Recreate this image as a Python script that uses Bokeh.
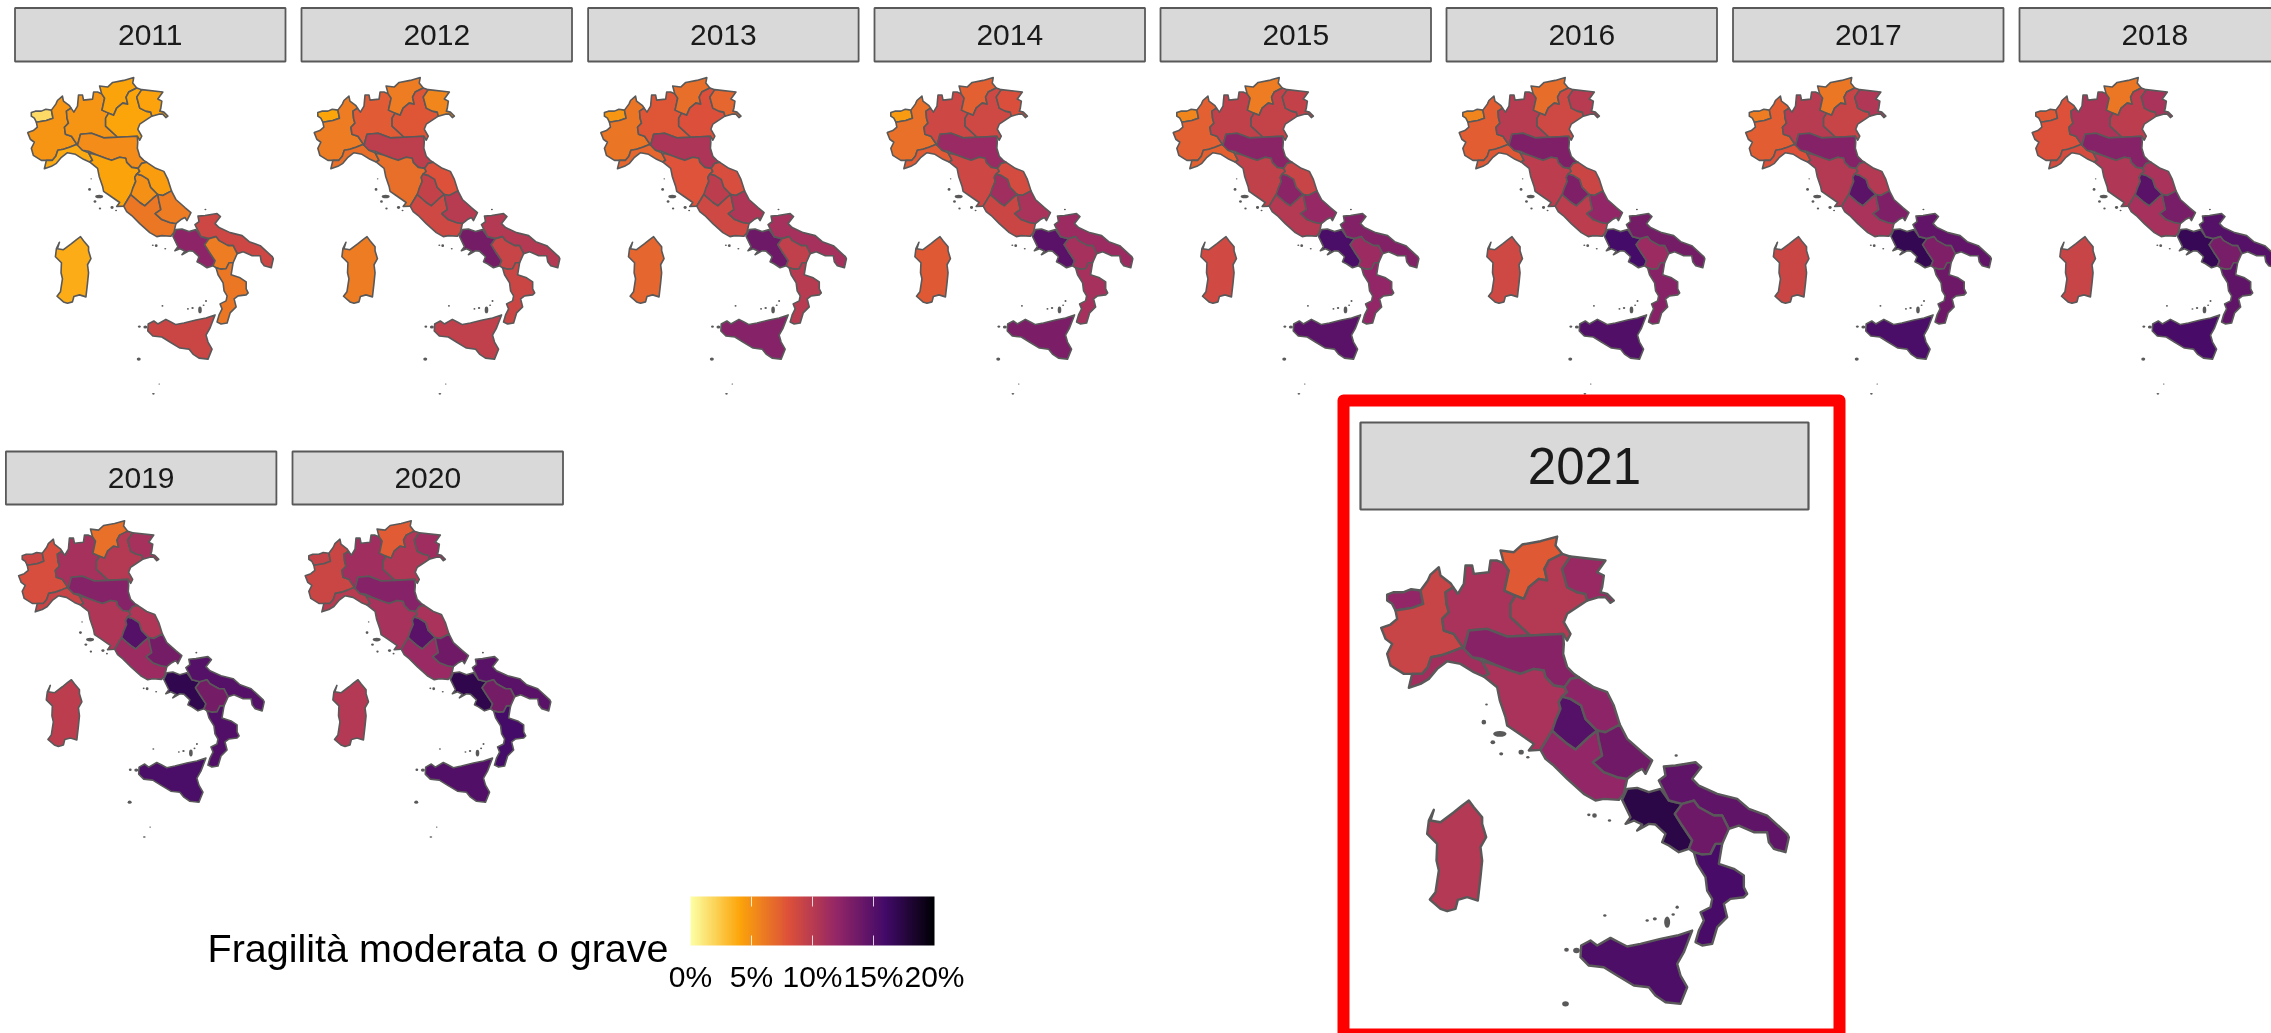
from bokeh.plotting import figure, ColumnDataSource
from bokeh.models import Range1d, LinearColorMapper
from bokeh.core.properties import value
from bokeh.embed import file_html
from bokeh.resources import INLINE
import numpy as np

# ---------- data: percentages ----------
REGIONS = ["Valle d'Aosta","Piemonte","Liguria","Lombardia","Trentino-Alto Adige","Veneto",
           "Friuli-Venezia Giulia","Emilia-Romagna","Toscana","Umbria","Marche","Lazio","Abruzzo",
           "Campania","Puglia","Basilicata","Calabria","Sicilia","Sardegna"]
YEARS = [2011,2012,2013,2014,2015,2016,2017,2018,2019,2020,2021]
v2011 = [1.7,4.8,3.8,4.8,4.1,4.0,4.2,5.2,4.1,5.0,4.4,6.2,6.0,12.3,8.9,6.0,6.2,9.0,3.7]
v2012 = [4.0,6.0,6.6,7.5,6.0,7.8,5.5,9.7,6.6,9.4,8.0,8.8,10.0,13.5,10.2,9.2,9.0,9.6,6.0]
v2013 = [4.7,6.3,7.0,7.8,6.6,8.1,7.0,10.6,7.9,9.8,8.3,8.8,10.5,13.8,11.0,9.6,10.0,12.6,7.0]
v2014 = [4.5,6.5,7.5,8.9,7.3,8.8,8.2,11.6,8.9,11.3,8.5,9.0,10.8,14.8,11.5,11.0,11.0,13.2,7.6]
v2015 = [5.5,7.3,7.2,9.5,6.0,9.3,9.4,12.4,9.5,12.4,9.2,10.2,11.8,15.6,12.8,11.5,12.0,14.8,8.7]
v2016 = [5.6,7.4,7.7,10.0,6.7,8.8,10.0,13.0,9.8,13.0,9.0,9.8,12.0,15.8,13.5,11.5,12.5,15.2,8.8]
v2017 = [6.0,7.4,8.0,10.0,6.2,9.2,10.4,12.7,10.2,14.7,10.2,10.8,13.0,16.8,14.4,13.0,13.8,15.6,9.0]
v2018 = [7.6,8.0,8.5,10.7,6.2,9.8,10.8,12.6,10.4,14.8,10.8,11.0,13.3,16.7,15.0,13.3,14.5,15.7,9.2]
v2019 = [9.0,8.3,9.2,11.0,6.5,10.2,11.0,12.6,10.5,15.0,10.5,11.5,13.5,17.0,15.0,13.5,15.2,15.6,9.8]
v2020 = [9.3,9.0,10.0,11.3,7.5,10.4,11.4,12.6,10.9,14.8,10.8,11.6,13.7,17.1,14.8,13.5,15.8,15.2,10.3]
v2021 = [12.0,9.2,11.2,10.8,7.6,10.2,11.7,12.5,10.8,15.0,12.3,12.0,13.7,17.3,14.6,13.9,15.7,15.4,10.3]
VALUES = [v2011,v2012,v2013,v2014,v2015,v2016,v2017,v2018,v2019,v2020,v2021]

LEGEND_TITLE = "Fragilità moderata o grave"
LEGEND_TICKS = [0,5,10,15,20]
LEGEND_LABELS = ["0%","5%","10%","15%","20%"]
STOPS = ["#FCFFA4","#FCA50A","#DD513A","#932667","#420A68","#000004"]   # reversed inferno(6)

# ---------- region outlines, map units ----------
VDA = [(140,612),(160,605),(190,605),(212,596),(240,600),(248,640),(215,652),(165,660),(155,640),(140,630)]
PIE = [(262,570),(270,552),(295,530),(300,555),(330,578),(338,590),(315,605),(318,640),(325,665),(305,685),(310,720),(340,730),(368,770),(330,785),(300,795),(272,800),(262,830),(245,850),(215,850),(190,850),(150,825),(140,790),(155,760),(135,745),(122,712),(150,702),(170,685),(165,660),(215,652),(248,640),(240,600)]
LIG = [(205,892),(240,880),(265,865),(290,835),(320,812),(360,820),(400,845),(430,858),(445,850),(425,812),(395,800),(368,770),(330,785),(300,795),(272,800),(262,830),(245,850),(215,850)]
LOM = [(338,590),(345,600),(352,610),(370,580),(375,525),(395,525),(400,550),(445,545),(450,510),(470,510),(490,518),(505,540),(492,600),(525,615),(510,640),(510,680),(570,735),(500,738),(440,715),(385,720),(370,775),(340,730),(310,720),(305,685),(325,665),(318,640),(315,605)]
TAA = [(480,480),(520,485),(545,462),(600,452),(650,438),(645,465),(665,490),(625,510),(612,535),(620,570),(595,565),(565,590),(550,625),(525,615),(492,600),(505,540),(490,518)]
VEN = [(665,490),(690,498),(665,535),(680,590),(710,605),(735,610),(740,630),(680,670),(670,695),(690,730),(680,750),(668,730),(570,735),(510,680),(510,640),(525,615),(550,625),(565,590),(595,565),(620,570),(612,535),(625,510)]
FVG = [(690,498),(795,510),(770,545),(790,555),(785,590),(780,605),(800,610),(820,630),(810,637),(795,620),(775,620),(740,630),(735,610),(710,605),(680,590),(665,535)]
EMR = [(370,775),(385,720),(440,715),(500,738),(570,735),(668,730),(670,760),(668,790),(680,830),(700,850),(715,860),(690,865),(672,890),(640,885),(615,860),(610,840),(580,835),(540,850),(510,840),(470,825),(425,805),(395,800)]
TOS = [(430,858),(445,850),(425,812),(470,825),(510,840),(540,850),(580,835),(610,840),(615,860),(640,885),(672,890),(680,905),(665,918),(655,935),(660,955),(645,990),(645,1020),(635,1020),(600,1078),(565,1080),(580,1060),(530,1025),(500,1005),(495,980),(478,930),(470,890)]
UMB = [(665,918),(690,925),(722,945),(735,985),(770,1020),(745,1040),(705,1077),(680,1060),(645,1030),(635,1020),(645,990),(660,955),(655,935)]
MAR = [(715,860),(760,890),(800,905),(820,945),(838,1002),(795,1025),(770,1020),(735,985),(722,945),(690,925),(665,918),(680,905),(672,890),(690,865)]
LAZ = [(600,1078),(635,1020),(645,1030),(680,1060),(705,1077),(745,1040),(770,1020),(775,1050),(785,1095),(757,1115),(790,1145),(830,1160),(860,1165),(850,1210),(835,1228),(790,1225),(765,1230),(730,1210),(680,1165),(640,1125),(615,1105)]
ABR = [(838,1002),(860,1045),(905,1085),(935,1110),(915,1150),(905,1135),(885,1145),(860,1165),(830,1160),(790,1145),(757,1115),(785,1095),(775,1050),(770,1020),(795,1025)]
CAM = [(845,1228),(860,1195),(890,1192),(925,1205),(960,1195),(985,1230),(1025,1240),(1003,1270),(1025,1305),(1055,1350),(1045,1375),(1015,1385),(985,1365),(965,1355),(975,1330),(945,1302),(925,1300),(890,1320),(905,1302),(880,1290),(855,1300),(870,1280)]
PUG = [(970,1128),(1005,1125),(1065,1115),(1082,1130),(1055,1165),(1075,1185),(1130,1210),(1190,1225),(1225,1255),(1280,1275),(1340,1330),(1345,1340),(1335,1385),(1300,1375),(1285,1355),(1280,1325),(1240,1325),(1195,1305),(1165,1315),(1145,1275),(1120,1275),(1075,1250),(1060,1230),(1025,1240),(985,1230),(955,1170),(975,1155)]
BAS = [(1025,1240),(1060,1230),(1075,1250),(1120,1275),(1145,1275),(1165,1315),(1145,1360),(1125,1360),(1110,1390),(1085,1392),(1060,1385),(1045,1375),(1055,1350),(1025,1305),(1003,1270)]
CAL = [(1060,1385),(1085,1392),(1110,1390),(1125,1360),(1145,1360),(1135,1420),(1180,1435),(1210,1455),(1210,1490),(1220,1510),(1210,1520),(1170,1525),(1150,1540),(1160,1580),(1130,1610),(1115,1660),(1085,1665),(1065,1655),(1075,1620),(1090,1590),(1080,1565),(1110,1550),(1115,1525),(1100,1500),(1095,1460),(1070,1420)]
SIC = [(1055,1620),(1030,1685),(1010,1720),(1020,1755),(1040,1790),(1020,1840),(975,1835),(945,1815),(925,1790),(880,1785),(830,1755),(790,1730),(745,1725),(720,1700),(722,1665),(750,1650),(770,1665),(810,1642),(835,1655),(860,1668),(900,1660),(960,1645),(1010,1635)]
SAR = [(385,1230),(400,1250),(425,1280),(425,1300),(437,1340),(420,1370),(425,1410),(420,1460),(412,1530),(380,1520),(352,1528),(345,1555),(320,1562),(300,1555),(268,1527),(285,1505),(295,1440),(288,1410),(290,1360),(260,1330),(265,1290),(280,1258),(270,1290),(300,1295),(340,1265),(365,1245)]
OUTLINES = [VDA,PIE,LIG,LOM,TAA,VEN,FVG,EMR,TOS,UMB,MAR,LAZ,ABR,CAM,PUG,BAS,CAL,SIC,SAR]

ISLE_X = [438,430,478,457,482,542,562,745,762,807,1007,793,920,943,980,998,1010,678,708,675,777,748]
ISLE_Y = [942,995,1030,1055,1090,1085,1100,1273,1275,1290,1095,1575,1590,1585,1595,1572,1550,1678,1680,1840,1964,2013]
ISLE_W = [8,14,40,14,12,16,10,10,14,10,10,10,10,12,18,10,10,14,20,20,8,14]
ISLE_H = [6,14,18,12,10,14,8,8,14,8,8,8,8,10,34,8,10,12,16,16,6,8]

# ---------- layout ----------
W, H = 2271, 1033
MAP_X0, MAP_Y0 = 120, 437
STRIP_L = [14.5,301,587.6,874,1160,1446,1732.5,2019,5.4,292,1360]
STRIP_T = [7.5]*8 + [451,451,422]
STRIP_W = [270.5]*10 + [448]
STRIP_H = [53.5]*8 + [53,53,87]
MAP_DX  = [12.3]*10 + [20]
MAP_DY  = [69.4]*8 + [69,69,113.7]
MAP_K   = [0.2008]*10 + [1/3]
LW      = [1.6]*10 + [2.4]
FS      = ["30px"]*10 + ["51px"]

# ---------- colour ----------
def hex2rgb(h): return [int(h[i:i+2],16) for i in (1,3,5)]
stop_rgb = np.array([hex2rgb(c) for c in STOPS],float)
pos = np.linspace(0,1,256)
pal = []
for t in pos:
    rgb = [np.interp(t,np.linspace(0,1,len(STOPS)),stop_rgb[:,k]) for k in range(3)]
    pal.append("#%02x%02x%02x" % tuple(int(round(c)) for c in rgb))
mapper = LinearColorMapper(palette=pal, low=0, high=20)

p = figure(width=W, height=H, x_range=Range1d(0,W), y_range=Range1d(H,0),
           toolbar_location=None, output_backend="svg", min_border=0,
           outline_line_color=None, background_fill_color="white",
           styles={"position":"fixed","left":"0px","top":"0px"})
p.axis.visible = False
p.grid.visible = False

GREY = "#595959"
for i, yr in enumerate(YEARS):
    k = MAP_K[i]
    ox = STRIP_L[i]+MAP_DX[i]
    oy = STRIP_T[i]+MAP_DY[i]
    # strip
    p.quad(left=[STRIP_L[i]], right=[STRIP_L[i]+STRIP_W[i]], top=[STRIP_T[i]], bottom=[STRIP_T[i]+STRIP_H[i]],
           fill_color="#d9d9d9", line_color=GREY, line_width=2.2 if i==10 else 1.8)
    p.text(x=[STRIP_L[i]+STRIP_W[i]/2], y=[STRIP_T[i]+STRIP_H[i]/2], text=[str(yr)],
           text_align="center", text_baseline="middle", text_color="#1a1a1a",
           text_font=value("Liberation Sans"), text_font_size=FS[i])
    # regions
    xs = [[ox+(a-MAP_X0)*k for a,b in o] for o in OUTLINES]
    ys = [[oy+(b-MAP_Y0)*k for a,b in o] for o in OUTLINES]
    src = ColumnDataSource(dict(xs=xs, ys=ys, v=VALUES[i], region=REGIONS))
    p.patches("xs","ys",source=src, fill_color={"field":"v","transform":mapper},
              line_color=GREY, line_width=LW[i], line_join="round")
    # small islands
    p.ellipse(x=[ox+(a-MAP_X0)*k for a in ISLE_X], y=[oy+(b-MAP_Y0)*k for b in ISLE_Y],
              width=[max(w*k,1.1) for w in ISLE_W], height=[max(h*k,1.1) for h in ISLE_H],
              fill_color=GREY, line_color=None)

# red highlight frame around the last panel
p.quad(left=[1343], right=[1839], top=[400], bottom=[1034], fill_color=None,
       line_color="#ff0000", line_width=12, line_join="round")

# legend
BAR_L, BAR_R, BAR_T, BAR_B = 690, 934, 896, 945
grad = np.linspace(0,20,512).reshape(1,-1)
p.image(image=[grad], x=BAR_L, y=BAR_T, dw=BAR_R-BAR_L, dh=BAR_B-BAR_T, color_mapper=mapper, dh_units="data")
tx = [BAR_L+t/20*(BAR_R-BAR_L) for t in LEGEND_TICKS]
p.segment(x0=tx[1:-1], x1=tx[1:-1], y0=[BAR_T]*3, y1=[BAR_T+10]*3, line_color="white", line_width=1, line_alpha=0.8)
p.segment(x0=tx[1:-1], x1=tx[1:-1], y0=[BAR_B]*3, y1=[BAR_B-10]*3, line_color="white", line_width=1, line_alpha=0.8)
p.text(x=tx, y=[976]*5, text=LEGEND_LABELS, text_align="center", text_baseline="middle",
       text_color="black", text_font=value("Liberation Sans"), text_font_size="30px")
p.text(x=[207], y=[947], text=[LEGEND_TITLE], text_align="left", text_baseline="middle",
       text_color="black", text_font=value("Liberation Sans"), text_font_size="39.5px")

open("out.html","w").write(file_html(p, INLINE))
